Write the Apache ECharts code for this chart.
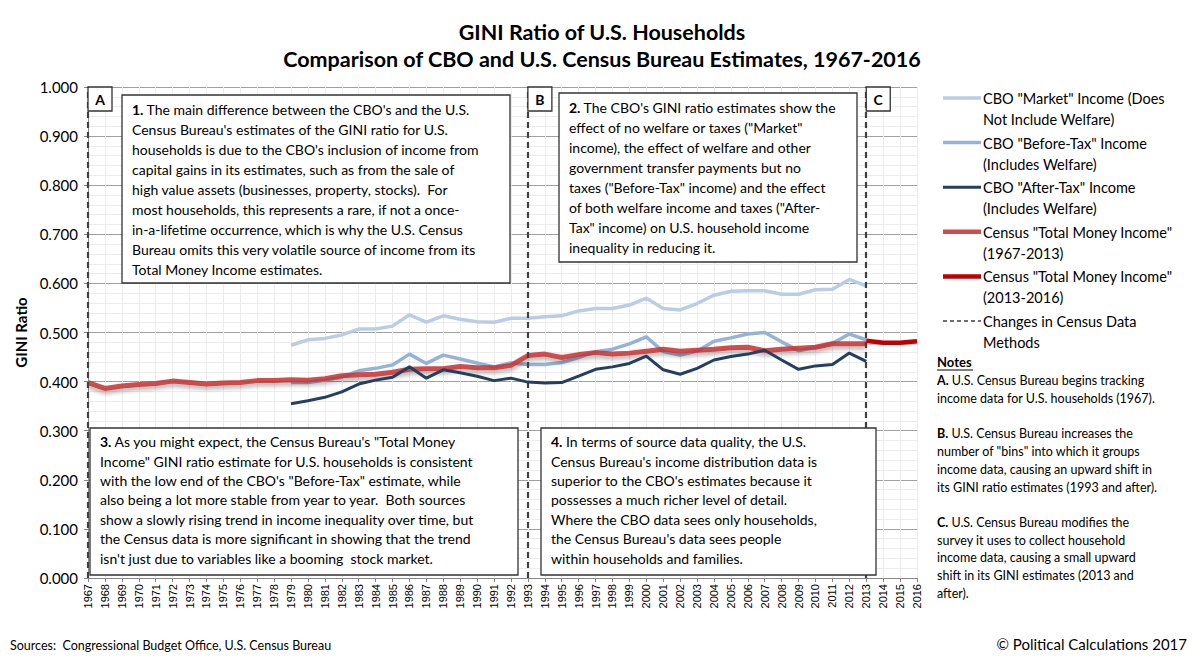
<!DOCTYPE html>
<html>
<head>
<meta charset="utf-8">
<script src="https://cdn.jsdelivr.net/npm/echarts@6/dist/echarts.min.js"></script>
<style>
html,body{margin:0;padding:0;background:#fff;}
#chart{width:1199px;height:661px;}
</style>
</head>
<body>
<div id="chart"></div>
<script>
const years = [];
for (let y = 1967; y <= 2016; y++) years.push(String(y));

const census = [0.398,0.386,0.391,0.394,0.396,0.401,0.398,0.395,0.397,0.398,0.402,0.402,0.404,0.403,0.406,0.412,0.414,0.415,0.419,0.425,0.426,0.426,0.431,0.428,0.428,0.433,
  0.453,0.456,0.449,0.455,0.459,0.456,0.458,0.462,0.466,0.462,0.464,0.466,0.469,0.470,0.463,0.466,0.468,0.470,0.477,0.477,0.477,null,null,null];
const censusNew = [null,null,null,null,null,null,null,null,null,null,null,null,null,null,null,null,null,null,null,null,null,null,null,null,null,null,
  null,null,null,null,null,null,null,null,null,null,null,null,null,null,null,null,null,null,null,null,0.483,0.479,0.479,0.482];
const cboMarket = [null,null,null,null,null,null,null,null,null,null,null,null,
  0.474,0.485,0.488,0.495,0.507,0.507,0.513,0.536,0.521,0.534,
  0.527,0.522,0.521,0.529,0.529,0.532,0.534,0.544,0.549,0.549,
  0.556,0.570,0.549,0.546,0.559,0.576,0.584,0.585,0.585,0.578,
  0.578,0.587,0.588,0.608,0.595,null,null,null];
const cboBefore = [null,null,null,null,null,null,null,null,null,null,null,null,
  0.398,0.398,0.403,0.409,0.422,0.427,0.434,0.456,0.437,0.454,
  0.446,0.438,0.430,0.438,0.435,0.435,0.439,0.449,0.461,0.466,
  0.477,0.491,0.461,0.454,0.462,0.482,0.489,0.497,0.500,0.481,
  0.463,0.470,0.478,0.497,0.485,null,null,null];
const cboAfter = [null,null,null,null,null,null,null,null,null,null,null,null,
  0.355,0.361,0.368,0.379,0.395,0.403,0.409,0.430,0.407,0.424,
  0.418,0.411,0.402,0.407,0.399,0.397,0.398,0.411,0.425,0.430,
  0.437,0.452,0.424,0.415,0.427,0.444,0.451,0.456,0.464,0.444,
  0.425,0.432,0.435,0.458,0.441,null,null,null];
const methodChangeYears = ['1967','1993','2013'];
const methodLetters = ['A','B','C'];

const FONT = 'Lato, "Noto Sans", sans-serif';
const C_MARKET = '#b9cde5';
const C_BEFORE = '#95b3d7';
const C_AFTER = '#243f60';
const C_CENSUS = 'rgba(200,50,50,0.85)';
const C_CENSUS_NEW = '#c00000';
const C_DASH = '#404040';
const ZG = 100;

function textBox(x, y, w, h, num, lines, fs, lh) {
  return {
    type: 'group', z: ZG,
    children: [
      { type: 'rect', z: ZG, shape: { x: x, y: y, width: w, height: h },
        style: { fill: '#ffffff', stroke: '#333', lineWidth: 1.3 } },
      { type: 'text', z: ZG + 1, x: x + 10, y: y + 4,
        style: {
          text: '{b|' + num + '.}' + lines.join('\n'),
          fontFamily: FONT, fontSize: fs, lineHeight: lh, fill: '#000',
          rich: { b: { fontWeight: 'bold', fontFamily: FONT, fontSize: fs, lineHeight: lh, fill: '#000' } }
        } }
    ]
  };
}

const chart = echarts.init(document.getElementById('chart'), null, { renderer: 'svg' });

const graphics = [];
graphics.push(textBox(122, 95, 388, 188, 1, [
  ' The main difference between the CBO\'s and the U.S.',
  'Census Bureau\'s estimates of the GINI ratio for U.S.',
  'households is due to the CBO\'s inclusion of income from',
  'capital gains in its estimates, such as from the sale of',
  'high value assets (businesses, property, stocks).  For',
  'most households, this represents a rare, if not a once-',
  'in-a-lifetime occurrence, which is why the U.S. Census',
  'Bureau omits this very volatile source of income from its',
  'Total Money Income estimates.'], 14, 20.1));
graphics.push(textBox(559, 93, 298, 169, 2, [
  ' The CBO\'s GINI ratio estimates show the',
  'effect of no welfare or taxes ("Market"',
  'income), the effect of welfare and other',
  'government transfer payments but no',
  'taxes ("Before-Tax" income) and the effect',
  'of both welfare income and taxes ("After-',
  'Tax" income) on U.S. household income',
  'inequality in reducing it.'], 14, 20.1));
graphics.push(textBox(90, 428, 428, 147, 3, [
  ' As you might expect, the Census Bureau\'s "Total Money',
  'Income" GINI ratio estimate for U.S. households is consistent',
  'with the low end of the CBO\'s "Before-Tax" estimate, while',
  'also being a lot more stable from year to year.  Both sources',
  'show a slowly rising trend in income inequality over time, but',
  'the Census data is more significant in showing that the trend',
  'isn\'t just due to variables like a booming  stock market.'], 14, 19.4));
graphics.push(textBox(541, 428, 335, 147, 4, [
  ' In terms of source data quality, the U.S.',
  'Census Bureau\'s income distribution data is',
  'superior to the CBO\'s estimates because it',
  'possesses a much richer level of detail.',
  'Where the CBO data sees only households,',
  'the Census Bureau\'s data sees people',
  'within households and families.'], 14, 19.4));

const legendItems = [
  { name: 'CBO "Market" Income (Does\nNot Include Welfare)', color: C_MARKET, w: 3.5 },
  { name: 'CBO "Before-Tax" Income\n(Includes Welfare)', color: C_BEFORE, w: 3.5 },
  { name: 'CBO "After-Tax" Income\n(Includes Welfare)', color: C_AFTER, w: 3 },
  { name: 'Census "Total Money Income"\n(1967-2013)', color: '#d04b4b', w: 4.5 },
  { name: 'Census "Total Money Income"\n(2013-2016)', color: C_CENSUS_NEW, w: 4.5 },
  { name: 'Changes in Census Data\nMethods', color: C_DASH, w: 1.5, dash: [4, 3] }
];
legendItems.forEach((it, i) => {
  const y0 = 98 + i * 44.6;
  graphics.push({ type: 'line', z: ZG, shape: { x1: 943, y1: y0, x2: 981, y2: y0 },
    style: { stroke: it.color, lineWidth: it.w, lineDash: it.dash || null } });
  graphics.push({ type: 'text', z: ZG, x: 983, y: y0 - 10,
    style: { text: it.name, fontFamily: FONT, fontSize: 14.5, lineHeight: 21, fill: '#000' } });
});

graphics.push({ type: 'text', z: ZG, x: 937, y: 355,
  style: { text: 'Notes', fontFamily: FONT, fontSize: 13, fontWeight: 'bold', fill: '#000' } });
graphics.push({ type: 'line', z: ZG, shape: { x1: 937, y1: 370, x2: 973, y2: 370 },
  style: { stroke: '#000', lineWidth: 1 } });
const notesText = [
  '{b|A.} U.S. Census Bureau begins tracking',
  'income data for U.S. households (1967).',
  '',
  '{b|B.} U.S. Census Bureau increases the',
  'number of "bins" into which it groups',
  'income data, causing an upward shift in',
  'its GINI ratio estimates (1993 and after).',
  '',
  '{b|C.} U.S. Census Bureau modifies the',
  'survey it uses to collect household',
  'income data, causing a small upward',
  'shift in its GINI estimates (2013 and',
  'after).'
];
graphics.push({ type: 'text', z: ZG, x: 937, y: 372,
  style: { text: notesText.join('\n'), fontFamily: FONT, fontSize: 12.5, lineHeight: 17.7, fill: '#000',
    rich: { b: { fontWeight: 'bold', fontFamily: FONT, fontSize: 12.5, lineHeight: 17.7, fill: '#000' } } } });

graphics.push({ type: 'text', z: ZG, x: 10, y: 639,
  style: { text: 'Sources:  Congressional Budget Office, U.S. Census Bureau', fontFamily: FONT, fontSize: 12.5, fill: '#000' } });
graphics.push({ type: 'text', z: ZG, x: 1187, y: 636,
  style: { text: '\u00A9 Political Calculations 2017', fontFamily: FONT, fontSize: 15, fill: '#000', align: 'right' } });

const option = {
  animation: false,
  backgroundColor: '#fff',
  title: {
    text: 'GINI Ratio of U.S. Households\nComparison of CBO and U.S. Census Bureau Estimates, 1967-2016',
    left: 597, top: 13, textAlign: 'center',
    textStyle: { fontFamily: FONT, fontSize: 21.5, fontWeight: 'bold', color: '#000', lineHeight: 27 }
  },
  grid: { left: 88, right: 282, top: 87, bottom: 83 },
  xAxis: {
    type: 'category', data: years, boundaryGap: false,
    axisLine: { lineStyle: { color: '#888', width: 1 } },
    axisTick: { show: true, interval: 0, length: 4, lineStyle: { color: '#888' } },
    axisLabel: { interval: 0, rotate: 90, fontFamily: '"Liberation Sans", Arial, sans-serif', fontSize: 11, color: '#000', margin: 6 },
    splitLine: { show: true, interval: 0, lineStyle: { color: '#ececec', width: 1 } }
  },
  yAxis: {
    type: 'value', min: 0, max: 1, interval: 0.1,
    name: 'GINI Ratio', nameLocation: 'middle', nameGap: 58, nameRotate: 90,
    nameTextStyle: { fontFamily: FONT, fontSize: 15, fontWeight: 'bold', color: '#000' },
    axisLine: { show: true, lineStyle: { color: '#888' } },
    axisTick: { show: true, length: 4, lineStyle: { color: '#888' } },
    axisLabel: { formatter: v => v.toFixed(3), fontFamily: FONT, fontSize: 15, color: '#000', margin: 10 },
    splitLine: { show: true, lineStyle: { color: '#a0a0a0', width: 1 } },
    minorTick: { show: false, splitNumber: 5 },
    minorSplitLine: { show: true, lineStyle: { color: '#ececec', width: 1 } }
  },
  series: [
    { name: 'CBO Market', type: 'line', data: cboMarket, showSymbol: false, symbol: 'none', z: 3,
      lineStyle: { color: C_MARKET, width: 3.5 } },
    { name: 'CBO Before-Tax', type: 'line', data: cboBefore, showSymbol: false, symbol: 'none', z: 3,
      lineStyle: { color: C_BEFORE, width: 3.5 } },
    { name: 'Census 1967-2013', type: 'line', data: census, showSymbol: false, symbol: 'none', z: 4,
      lineStyle: { color: C_CENSUS, width: 5, shadowColor: 'rgba(0,0,0,0.35)', shadowBlur: 4, shadowOffsetY: 3 } },
    { name: 'CBO After-Tax', type: 'line', data: cboAfter, showSymbol: false, symbol: 'none', z: 5,
      lineStyle: { color: C_AFTER, width: 3 } },
    { name: 'Census 2013-2016', type: 'line', data: censusNew, showSymbol: false, symbol: 'none', z: 5,
      lineStyle: { color: C_CENSUS_NEW, width: 4.5, shadowColor: 'rgba(0,0,0,0.3)', shadowBlur: 4, shadowOffsetY: 3 } },
    { name: 'Changes in Census Data Methods', type: 'line', data: [], z: 6,
      markLine: {
        silent: true, symbol: 'none', label: { show: false },
        lineStyle: { color: C_DASH, type: [6, 4], width: 2.2 },
        data: methodChangeYears.map(y => ({ xAxis: y }))
      } }
  ],
  graphic: graphics
};
chart.setOption(option);

const letterG = methodChangeYears.map((y, i) => {
  const p = chart.convertToPixel({ xAxisIndex: 0, yAxisIndex: 0 }, [y, 1]);
  return {
    type: 'group', z: ZG + 10, x: p[0], y: p[1],
    children: [
      { type: 'rect', z: ZG + 10, shape: { x: 0, y: 0, width: 24, height: 24 }, style: { fill: '#ffffff', stroke: '#333', lineWidth: 1.3 } },
      { type: 'text', z: ZG + 11, x: 12, y: 12, style: { text: methodLetters[i], fontFamily: FONT, fontSize: 14, fontWeight: 'bold', fill: '#000', align: 'center', verticalAlign: 'middle' } }
    ]
  };
});
chart.setOption({ graphic: graphics.concat(letterG) });
</script>
</body>
</html>
